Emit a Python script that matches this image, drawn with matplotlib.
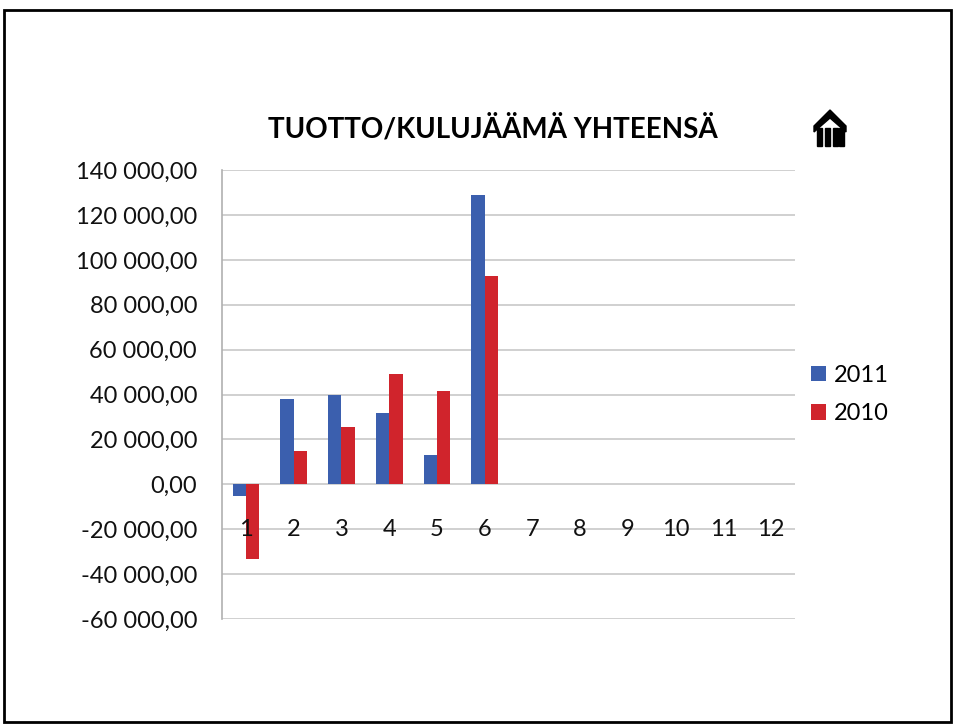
"""Tuotto/kulujäämä yhteensä - monthly bars 2011 vs 2010"""
import matplotlib.pyplot as plt
import matplotlib.patches as mpatches
import numpy as np

months = [str(m) for m in range(1, 13)]
vals_2011 = [-5000, 38200, 39700, 31900, 12900, 128800]
vals_2010 = [-33400, 14700, 25600, 49300, 41600, 93000]
series_labels = ['2011', '2010']
colors = ['#3b5fae', '#d0242c']
yticks = list(range(-60000, 140001, 20000))


def fmt(v):
    s = f"{abs(v):,.2f}".replace(",", " ").replace(".", ",")
    return ("-" if v < 0 else "") + s


def main():
    plt.rcParams['font.family'] = ['Lato', 'DejaVu Sans']
    fig = plt.figure(figsize=(9.55, 7.24), dpi=100)
    ax = fig.add_axes([0.2325, 0.145, 0.600, 0.620])

    x = np.arange(1, len(months) + 1)
    w = 0.28
    n = len(vals_2011)
    ax.bar(x[:n] - w / 2, vals_2011, w, color=colors[0], label=series_labels[0], zorder=3)
    ax.bar(x[:n] + w / 2, vals_2010, w, color=colors[1], label=series_labels[1], zorder=3)

    ax.set_xlim(0.5, len(months) + 0.5)
    ax.set_ylim(yticks[0], yticks[-1])
    ax.set_yticks(yticks)
    ax.set_yticklabels([fmt(v) for v in yticks], fontsize=17, color='#111111')
    ax.tick_params(axis='y', length=0, pad=18)
    ax.set_xticks([])
    ax.grid(axis='y', color='#c8c8c8', linewidth=1.2, zorder=0)
    for s in ['top', 'right', 'bottom']:
        ax.spines[s].set_visible(False)
    ax.spines['left'].set_color('#b0b0b0')
    ax.spines['left'].set_linewidth(1.2)

    # category labels sit at the -20 000 line as in the original chart
    for xi, m in zip(x, months):
        ax.text(xi, -20000, m, ha='center', va='center', fontsize=17,
                color='#111111', zorder=4)

    fig.text(0.516, 0.822, 'TUOTTO/KULUJÄÄMÄ YHTEENSÄ', ha='center', va='center',
             fontsize=20, fontweight='bold')

    ax.legend(loc='center left', bbox_to_anchor=(0.99, 0.50), frameon=False,
              fontsize=17, handlelength=0.65, handleheight=0.65, handletextpad=0.35,
              labelspacing=0.75)

    # logo (simplified)
    cx, cy = 830 / 955, 1 - 128 / 724
    sx, sy = 1 / 955, 1 / 724
    roof = [(-16, -2), (0, -18), (16, -2), (16, 4), (0, -10), (-16, 4)]
    fig.patches.append(mpatches.Polygon([(cx + a * sx, cy - b * sy) for a, b in roof],
                                        closed=True, color='black', transform=fig.transFigure))
    for lx in (-13, -5, 3, 9):
        fig.patches.append(mpatches.Rectangle((cx + lx * sx, cy - 18 * sy), 5 * sx, 18 * sy,
                                              color='black', transform=fig.transFigure))

    fig.patches.append(mpatches.Rectangle((4 / 955, 2 / 724), 947 / 955, 712 / 724,
                                          fill=False, edgecolor='black', linewidth=2,
                                          transform=fig.transFigure))

    fig.savefig('out.png', dpi=100)
    plt.close(fig)


if __name__ == "__main__":
    main()
